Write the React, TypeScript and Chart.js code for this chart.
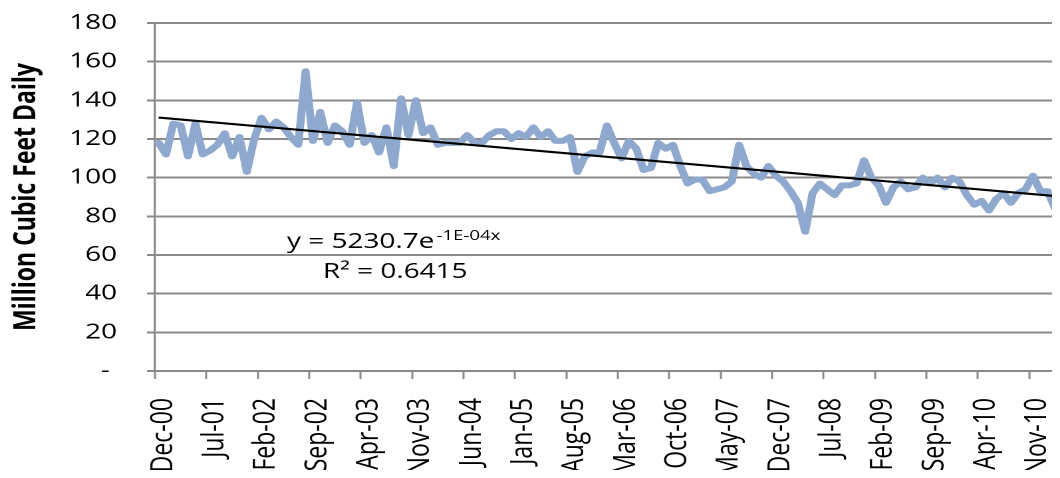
import React, { useEffect, useRef } from 'react';
import { Chart, registerables } from 'chart.js';

Chart.register(...registerables);

// Monthly categories (Dec-00 .. Feb-11)
const categories: string[] = [
  'Dec-00',
  'Jan-01', 'Feb-01', 'Mar-01', 'Apr-01', 'May-01', 'Jun-01', 'Jul-01', 'Aug-01', 'Sep-01', 'Oct-01', 'Nov-01', 'Dec-01',
  'Jan-02', 'Feb-02', 'Mar-02', 'Apr-02', 'May-02', 'Jun-02', 'Jul-02', 'Aug-02', 'Sep-02', 'Oct-02', 'Nov-02', 'Dec-02',
  'Jan-03', 'Feb-03', 'Mar-03', 'Apr-03', 'May-03', 'Jun-03', 'Jul-03', 'Aug-03', 'Sep-03', 'Oct-03', 'Nov-03', 'Dec-03',
  'Jan-04', 'Feb-04', 'Mar-04', 'Apr-04', 'May-04', 'Jun-04', 'Jul-04', 'Aug-04', 'Sep-04', 'Oct-04', 'Nov-04', 'Dec-04',
  'Jan-05', 'Feb-05', 'Mar-05', 'Apr-05', 'May-05', 'Jun-05', 'Jul-05', 'Aug-05', 'Sep-05', 'Oct-05', 'Nov-05', 'Dec-05',
  'Jan-06', 'Feb-06', 'Mar-06', 'Apr-06', 'May-06', 'Jun-06', 'Jul-06', 'Aug-06', 'Sep-06', 'Oct-06', 'Nov-06', 'Dec-06',
  'Jan-07', 'Feb-07', 'Mar-07', 'Apr-07', 'May-07', 'Jun-07', 'Jul-07', 'Aug-07', 'Sep-07', 'Oct-07', 'Nov-07', 'Dec-07',
  'Jan-08', 'Feb-08', 'Mar-08', 'Apr-08', 'May-08', 'Jun-08', 'Jul-08', 'Aug-08', 'Sep-08', 'Oct-08', 'Nov-08', 'Dec-08',
  'Jan-09', 'Feb-09', 'Mar-09', 'Apr-09', 'May-09', 'Jun-09', 'Jul-09', 'Aug-09', 'Sep-09', 'Oct-09', 'Nov-09', 'Dec-09',
  'Jan-10', 'Feb-10', 'Mar-10', 'Apr-10', 'May-10', 'Jun-10', 'Jul-10', 'Aug-10', 'Sep-10', 'Oct-10', 'Nov-10', 'Dec-10',
  'Jan-11', 'Feb-11',
];

// Million cubic feet daily
const flowValues: number[] = [
  118,
  112, 128, 127, 111, 128, 112, 114, 117, 123, 111, 121, 103,
  120, 131, 125, 129, 126, 121, 117, 155, 119, 134, 118, 127,
  124, 117, 139, 118, 122, 113, 126, 106, 141, 122, 140, 123,
  126, 117, 118, 118, 118, 122, 118, 118, 122, 124, 124, 120,
  123, 121, 126, 121, 124, 119, 119, 121, 103, 111, 113, 113,
  127, 118, 110, 119, 115, 104, 105, 118, 115, 117, 106, 97,
  99, 99, 93, 94, 95, 98, 117, 106, 102, 100, 106, 101,
  98, 93, 87, 72, 92, 97, 94, 91, 96, 96, 97, 109,
  100, 96, 87, 95, 98, 94, 95, 100, 97, 100, 95, 100,
  98, 91, 86, 88, 83, 89, 92, 87, 92, 94, 101, 93,
  93, 84,
];

// Exponential trendline end values
const trendStart = 131.1;
const trendEnd = 90.5;

const tickInterval = 7;
const yMin = 0;
const yMax = 180;
const yStep = 20;

const axisTitle = 'Million Cubic Feet Daily';
const equationText = 'y = 5230.7e';
const equationExponent = '-1E-04x';
const r2Text = 'R\u00B2 = 0.6415';

const STRETCH = 1.33;
const W = 793;
const H = 500;
const GRAY = '#8a8a8a';
const FONT = '"Open Sans", sans-serif';

export default function App() {
  const ref = useRef<HTMLCanvasElement>(null);

  useEffect(() => {
    document.body.style.overflow = 'hidden';
    document.documentElement.style.overflow = 'hidden';
    const last = categories.length - 1;
    const trend = categories.map((_, i) => (i === 0 ? trendStart : i === last ? trendEnd : null));

    const annotation = {
      id: 'equation',
      afterDraw(chart: any) {
        const { ctx, chartArea } = chart;
        ctx.save();
        ctx.fillStyle = '#000';
        ctx.textBaseline = 'alphabetic';
        ctx.textAlign = 'left';
        ctx.font = '21px ' + FONT;
        const x0 = chartArea.left + 99.3;
        ctx.fillText(equationText, x0, chartArea.top + 225);
        const w = ctx.measureText(equationText).width;
        ctx.font = '14px ' + FONT;
        ctx.fillText(equationExponent, x0 + w + 1.5, chartArea.top + 217);
        ctx.font = '21px ' + FONT;
        ctx.fillText(r2Text, chartArea.left + 126.3, chartArea.top + 255);
        ctx.restore();
      },
    };

    const chart = new Chart(ref.current as HTMLCanvasElement, {
      type: 'line',
      data: {
        labels: categories,
        datasets: [
          {
            label: 'Flow',
            data: flowValues,
            borderColor: '#8EA8CE',
            borderWidth: 6,
            pointRadius: 0,
            tension: 0,
            borderJoinStyle: 'round',
            borderCapStyle: 'round',
            order: 2,
          },
          {
            label: 'Trend',
            data: trend as any,
            borderColor: '#000000',
            borderWidth: 2.2,
            pointRadius: 0,
            spanGaps: true,
            order: 1,
          },
        ],
      },
      options: {
        animation: false,
        responsive: true,
        maintainAspectRatio: false,
        devicePixelRatio: 2,
        layout: { padding: { top: 15, left: 0, right: 0, bottom: 0 } },
        plugins: { legend: { display: false }, tooltip: { enabled: false } },
        scales: {
          x: {
            type: 'category',
            offset: true,
            grid: {
              offset: true,
              drawOnChartArea: false,
              drawTicks: true,
              tickLength: 8,
              tickWidth: 1.5,
              tickColor: (c: any) => (c.index % tickInterval === 0 ? GRAY : 'rgba(0,0,0,0)'),
            },
            border: { display: true, color: GRAY, width: 2 },
            ticks: {
              autoSkip: false,
              minRotation: 90,
              maxRotation: 90,
              padding: 19,
              labelOffset: 3.5,
              color: '#000',
              font: { family: FONT, size: 23 },
              callback: (_v: any, i: number) => (i % tickInterval === 0 ? categories[i] : ''),
            },
            afterFit: (s: any) => {
              s.height = H - 363;
              s.paddingLeft = 0;
              s.paddingRight = 0;
            },
          },
          y: {
            min: yMin,
            max: yMax,
            ticks: {
              stepSize: yStep,
              padding: 22.5,
              color: '#000',
              font: { family: FONT, size: 21 },
              callback: (v: any) => (Number(v) === 0 ? '- ' : String(v)),
            },
            grid: { color: GRAY, lineWidth: 2, tickLength: 6, tickWidth: 2, tickColor: GRAY },
            border: { color: GRAY, width: 1.6 },
            title: {
              display: true,
              text: axisTitle,
              color: '#000',
              font: { family: FONT, size: 23, weight: 'bold' },
              padding: 0,
            },
            afterFit: (s: any) => {
              s.width = 110.5;
              s.paddingTop = 0;
              s.paddingBottom = 0;
            },
          },
        },
      } as any,
      plugins: [annotation],
    });
    return () => chart.destroy();
  }, []);

  return (
    <div style={{ width: 1052, height: 470, overflow: 'hidden', marginBottom: -8 }}>
      <div
        style={{
          width: W,
          height: H,
          transform: `scaleX(${STRETCH})`,
          transformOrigin: '0 0',
          position: 'relative',
        }}
      >
        <canvas ref={ref} />
      </div>
    </div>
  );
}
